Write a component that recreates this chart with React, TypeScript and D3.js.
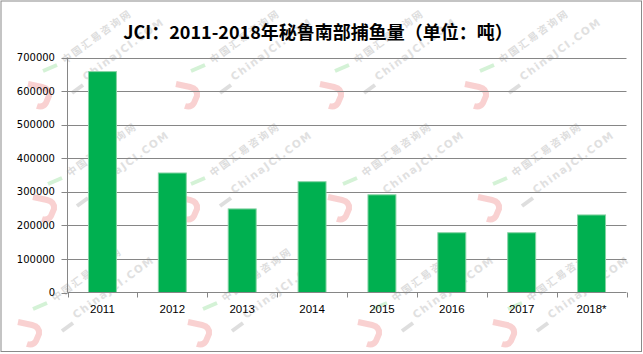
import React from 'react';
import * as d3 from 'd3';

const years = ['2011', '2012', '2013', '2014', '2015', '2016', '2017', '2018*'];
const fishCatch = [658000, 356000, 249000, 330000, 291000, 178000, 178000, 231000];
const yTickValues = [0, 100000, 200000, 300000, 400000, 500000, 600000, 700000];
const title = 'JCI：2011-2018年秘鲁南部捕鱼量（单位：吨）';

const W = 643;
const H = 354;
const PL = 67.5;
const PR = 626.5;
const PT = 57.5;
const PB = 292.5;

const watermarkSpots: [number, number][] = [
  [40, 92], [188, 92], [332, 92], [477, 92],
  [45, 205], [188, 205], [340, 205], [490, 205],
  [30, 330], [200, 330], [370, 330], [505, 330],
];

function Watermark({ x, y }: { x: number; y: number }) {
  return (
    <g transform={`translate(${x},${y})`} opacity={0.75}>
      <path d="M -12,-8 L 2,-5 Q 10,-3 9,4 L 6,11 Q 3,16 -3,14" fill="none" stroke="#f7c2c2" strokeWidth={6} />
      <line x1={3} y1={-21} x2={17} y2={-27} stroke="#c6eec9" strokeWidth={4} />
      <line x1={32} y1={1} x2={43} y2={-7} stroke="#d4d4d4" strokeWidth={4} />
      <text transform="translate(25,-28) rotate(-36)" fontFamily="'Noto Sans CJK SC'" fontWeight="bold" fontSize={10} letterSpacing={2} fill="#d2d2d2">中国汇易咨询网</text>
      <text transform="translate(46,-11) rotate(-36)" fontFamily="'DejaVu Sans'" fontWeight="bold" fontSize={10.5} letterSpacing={1.5} fill="#d6d6d6">ChinaJCI.COM</text>
    </g>
  );
}

export default function App() {
  const x = d3.scaleBand<string>().domain(years).range([PL, PR]).paddingInner(0.6).paddingOuter(0.3);
  const y = d3.scaleLinear().domain([0, 700000]).range([PB, PT]);
  const step = x.step();
  const bw = x.bandwidth();
  const boundaries = d3.range(years.length + 1).map((i) => PL + i * step);

  return (
    <svg width={W} height={H} style={{ position: 'absolute', left: 0, top: 0, background: '#fff' }}>
      <rect x={0} y={0} width={W} height={H} fill="#fff" />
      {watermarkSpots.map(([wx, wy], i) => (
        <Watermark key={i} x={wx} y={wy} />
      ))}
      <rect x={1} y={1} width={640.5} height={350.5} fill="none" stroke="#8a8a8a" strokeWidth={1} />
      <text x={318} y={39} textAnchor="middle" fontFamily="'Noto Sans CJK SC'" fontWeight="bold" fontSize={18} fill="#000">
        {title}
      </text>
      {yTickValues.map((v) => (
        <g key={v}>
          {v > 0 && <line x1={PL} x2={PR} y1={Math.round(y(v)) + 0.5} y2={Math.round(y(v)) + 0.5} stroke="#868686" strokeWidth={1} />}
          <line x1={PL - 6} x2={PL} y1={Math.round(y(v)) + 0.5} y2={Math.round(y(v)) + 0.5} stroke="#868686" strokeWidth={1} />
          <text x={55} y={y(v)} dy="0.36em" textAnchor="end" fontFamily="'DejaVu Sans'" fontSize={10} fill="#000">
            {v}
          </text>
        </g>
      ))}
      {years.map((yr, i) => (
        <rect
          key={yr}
          x={x(yr)!}
          y={y(fishCatch[i])}
          width={bw}
          height={PB - y(fishCatch[i])}
          fill="#00b050"
          stroke="#86d3a4"
          strokeWidth={1}
        />
      ))}
      <line x1={PL} x2={PL} y1={PT} y2={PB} stroke="#868686" strokeWidth={1} />
      <line x1={PL} x2={PR} y1={PB} y2={PB} stroke="#868686" strokeWidth={1} />
      {boundaries.map((bx, i) => (
        <line key={i} x1={Math.round(bx) + 0.5} x2={Math.round(bx) + 0.5} y1={PB} y2={PB + 5} stroke="#868686" strokeWidth={1} />
      ))}
      {years.map((yr) => (
        <text key={yr} x={x(yr)! + bw / 2} y={313} textAnchor="middle" fontFamily="'Liberation Sans'" fontSize={11.5} fill="#000">
          {yr}
        </text>
      ))}
    </svg>
  );
}
